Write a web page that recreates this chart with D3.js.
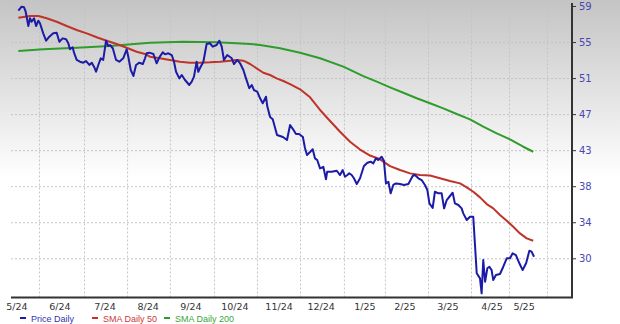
<!DOCTYPE html>
<html>
<head>
<meta charset="utf-8">
<script src="https://cdn.jsdelivr.net/npm/d3@7"></script>
<style>
  body { margin: 0; background: #fff; }
  svg { display: block; }
  .grid line { stroke: #c4c4c4; stroke-dasharray: 2 2; stroke-width: 1; }
  .ylabel { font: 10px "DejaVu Sans", sans-serif; fill: #4a46b4; }
  .xlabel { font: 9.5px "DejaVu Sans", sans-serif; fill: #333; }
  .legend text { font: 9px "Liberation Sans", Arial, sans-serif; }
</style>
</head>
<body>
<svg id="chart" width="620" height="324"></svg>
<script>
// x is a trading-session index
const priceSessions = [3.6, 5.2, 6.4, 7.2, 8.5, 9.3, 10.1, 11.3, 12.3, 13.4, 14.2, 15.8, 17.2, 18.8, 20.7, 22.4, 23.7, 25.3, 27.0, 28.1, 28.9, 30.2, 30.9, 32.2, 33.8, 35.4, 36.8, 38.4, 39.6, 40.7, 41.7, 42.8, 44.0, 45.2, 46.6, 47.7, 48.5, 49.9, 51.5, 53.1, 55.0, 56.7, 57.5, 58.7, 60.0, 61.3, 62.9, 64.6, 65.7, 66.5, 67.8, 69.8, 71.4, 72.7, 74.4, 75.5, 77.1, 78.8, 79.9, 80.9, 82.5, 83.7, 85.3, 87.4, 88.6, 89.7, 91.0, 91.8, 92.6, 94.3, 95.9, 97.5, 98.9, 100.8, 102.1, 103.3, 104.4, 106.0, 108.2, 109.3, 110.9, 112.3, 113.9, 115.2, 116.8, 118.0, 119.1, 120.7, 122.1, 123.4, 125.0, 125.6, 127.0, 128.3, 130.4, 133.3, 135.3, 136.8, 138.2, 139.7, 141.2, 143.1, 144.1, 145.1, 146.6, 147.9, 149.0, 150.1, 151.5, 153.1, 154.4, 155.0, 157.2, 159.7, 161.3, 162.6, 163.7, 164.9, 165.8, 167.0, 168.1, 169.5, 171.1, 173.0, 174.7, 176.3, 177.6, 178.9, 180.0, 181.7, 182.8, 183.8, 185.0, 186.1, 187.4, 188.7, 190.7, 192.6, 194.8, 196.9, 198.0, 199.7, 201.3, 202.9, 204.1, 205.1, 206.7, 207.8, 209.5, 211.1, 212.3, 213.6, 214.9, 216.5, 217.6, 219.3, 220.9, 221.7, 223.4, 225.0, 226.6, 227.5, 228.3, 229.9, 230.7, 231.5, 232.4, 233.5, 234.5, 235.6, 236.4, 237.7, 239.7, 241.3, 243.0, 244.6, 245.9, 247.5, 249.2, 250.8, 252.5, 254.1, 255.2, 256.4]
const priceValues = [58.37, 58.82, 58.75, 58.25, 56.62, 57.5, 57.11, 57.5, 56.62, 57.23, 56.93, 55.79, 54.95, 55.41, 55.79, 55.86, 54.84, 55.22, 55.11, 54.66, 53.97, 54.2, 53.59, 52.76, 52.56, 52.45, 52.64, 52.19, 52.45, 51.99, 51.42, 52.19, 52.95, 52.76, 54.95, 54.35, 54.46, 54.09, 52.76, 52.56, 52.95, 53.97, 53.13, 51.62, 50.94, 52.19, 52.45, 52.3, 52.95, 53.52, 53.59, 53.44, 52.38, 53.06, 53.63, 53.4, 53.52, 53.32, 52.56, 51.42, 50.67, 51.05, 50.48, 49.91, 50.29, 50.86, 52.56, 51.42, 51.81, 52.56, 54.58, 54.66, 54.27, 54.46, 54.95, 54.27, 52.76, 53.32, 52.95, 52.3, 52.76, 52.38, 51.62, 50.67, 49.54, 49.91, 49.34, 49.15, 48.4, 47.83, 48.58, 47.52, 46.27, 46.01, 44.22, 43.99, 43.65, 45.36, 44.9, 44.33, 44.33, 43.99, 42.74, 41.95, 42.29, 42.6, 41.57, 41.38, 40.43, 40.61, 39.18, 40.05, 40.05, 40.16, 39.67, 40.24, 39.48, 39.67, 39.87, 39.67, 39.3, 38.65, 39.3, 40.7, 41.07, 41.19, 41.0, 41.57, 41.38, 41.75, 41.3, 38.72, 38.91, 37.59, 38.54, 38.72, 38.65, 38.54, 38.65, 39.56, 39.67, 39.3, 39.1, 38.54, 37.97, 36.45, 35.92, 37.77, 37.59, 37.59, 35.88, 36.83, 37.2, 37.66, 36.45, 36.26, 35.88, 35.31, 34.55, 34.93, 34.93, 31.51, 28.49, 27.92, 26.21, 30.0, 27.53, 29.06, 29.24, 28.86, 27.72, 28.29, 28.41, 29.24, 30.2, 30.2, 30.77, 30.57, 29.63, 28.86, 29.63, 31.06, 30.95, 30.38]

const sma50Sessions = [3.6, 9.3, 13.4, 17.5, 22.4, 27.3, 32.2, 37.1, 42.0, 46.9, 51.8, 56.7, 61.6, 65.7, 68.1, 73.0, 77.9, 82.8, 87.7, 92.6, 97.5, 102.5, 107.4, 110.6, 113.9, 117.2, 120.4, 123.7, 127.0, 130.2, 133.5, 136.8, 141.7, 146.6, 151.5, 156.4, 161.3, 166.2, 171.1, 176.0, 180.9, 185.8, 190.7, 195.6, 200.5, 205.4, 210.3, 215.2, 220.1, 223.4, 226.6, 229.9, 233.2, 236.4, 239.7, 243.0, 246.2, 249.5, 252.8, 256.0]
const sma50Values = [57.57, 57.76, 57.76, 57.5, 57.11, 56.62, 56.17, 55.79, 55.34, 54.95, 54.58, 54.15, 53.7, 53.44, 53.13, 52.95, 52.76, 52.56, 52.45, 52.45, 52.49, 52.56, 52.68, 52.76, 52.68, 52.3, 51.81, 51.31, 51.05, 50.67, 50.37, 50.02, 49.42, 48.51, 47.07, 45.82, 44.6, 43.46, 42.57, 41.89, 41.46, 40.69, 40.24, 39.86, 39.67, 39.61, 39.3, 38.99, 38.72, 38.27, 37.77, 37.13, 36.37, 35.88, 35.12, 34.47, 33.78, 33.03, 32.46, 32.19]

const sma200Sessions = [3.6, 15.8, 32.2, 48.5, 68.1, 84.5, 100.8, 110.6, 117.2, 122.1, 131.9, 141.7, 151.5, 162.9, 172.7, 179.3, 185.8, 192.3, 198.9, 205.4, 211.9, 218.5, 225.0, 231.5, 238.1, 244.6, 251.1, 256.0]
const sma200Values = [53.78, 53.97, 54.15, 54.35, 54.72, 54.84, 54.77, 54.67, 54.58, 54.46, 54.09, 53.59, 52.95, 52.0, 50.93, 50.29, 49.65, 49.03, 48.4, 47.83, 47.26, 46.61, 46.01, 45.17, 44.41, 43.73, 42.89, 42.32]

const gridSessions = [13.7, 35.8, 56.9, 77.9, 99.5, 120.6, 141.7, 163.2, 183.3, 204.4, 225.5, 244.1, 262.7]
const labelSessions = [2.9, 24.0, 46.1, 67.2, 88.2, 109.8, 131.4, 152.0, 173.5, 193.1, 214.2, 235.8, 251.5]
const monthLabels = ['5/24', '6/24', '7/24', '8/24', '9/24', '10/24', '11/24', '12/24', '1/25', '2/25', '3/25', '4/25', '5/25']
const yTicks = [30.2, 34.3, 38.4, 42.5, 46.6, 50.7, 54.8, 58.9]
const yTickLabels = ['30', '34', '38', '43', '47', '51', '55', '59']

const series = [
  { name: 'Price Daily', xs: priceSessions, ys: priceValues, color: '#1b1ba8', text: '#3434b0' },
  { name: 'SMA Daily 50', xs: sma50Sessions, ys: sma50Values, color: '#bf3329', text: '#cc3a3a' },
  { name: 'SMA Daily 200', xs: sma200Sessions, ys: sma200Values, color: '#2f9c2c', text: '#3aa63a' },
]

const svg = d3.select('#chart')
const plot = { left: 11, right: 572, top: 3, bottom: 297.5 }

const x = d3.scaleLinear().domain([0, 275]).range([plot.left, plot.right])
const y = d3.scaleLinear().domain([25.74, 59.24]).range([plot.bottom, plot.top])

const grad = svg.append('defs').append('linearGradient')
  .attr('id', 'bg').attr('x1', 0).attr('y1', 0).attr('x2', 0).attr('y2', 1)
grad.append('stop').attr('offset', '0%').attr('stop-color', '#c4c4c4')
grad.append('stop').attr('offset', '55%').attr('stop-color', '#ffffff')
svg.append('rect').attr('width', 620).attr('height', 324).attr('fill', 'url(#bg)')

// gridlines
svg.append('g').attr('class', 'grid')
  .call(d3.axisBottom(x).tickValues(gridSessions).tickSize(-(plot.bottom - plot.top)).tickFormat(''))
  .attr('transform', `translate(0,${plot.bottom})`)
  .call(g => g.select('.domain').remove())
svg.append('g').attr('class', 'grid')
  .call(d3.axisLeft(y).tickValues(yTicks).tickSize(-(plot.right - plot.left)).tickFormat(''))
  .attr('transform', `translate(${plot.left},0)`)
  .call(g => g.select('.domain').remove())

// series
const line = d3.line().x(d => x(d[0])).y(d => y(d[1]))
series.slice().reverse().forEach(s => {
  svg.append('path')
    .datum(d3.zip(s.xs, s.ys))
    .attr('d', line)
    .attr('fill', 'none')
    .attr('stroke', s.color)
    .attr('stroke-width', 2)
    .attr('stroke-linejoin', 'round')
})

// right axis
const yAxis = svg.append('g')
  .attr('transform', `translate(${plot.right},0)`)
  .call(d3.axisRight(y).tickValues(yTicks).tickSize(4).tickPadding(3).tickFormat((d, i) => yTickLabels[i]))
yAxis.select('.domain').remove()
yAxis.selectAll('.tick line').attr('stroke', '#333')
yAxis.selectAll('.tick text').attr('class', 'ylabel').attr('fill', null)
svg.append('line')
  .attr('x1', plot.right).attr('x2', plot.right)
  .attr('y1', plot.top).attr('y2', plot.bottom)
  .attr('stroke', '#333').attr('stroke-width', 2)

// bottom axis
svg.append('line')
  .attr('x1', plot.left).attr('x2', plot.right + 1)
  .attr('y1', plot.bottom).attr('y2', plot.bottom)
  .attr('stroke', '#333').attr('stroke-width', 2)
svg.append('g').selectAll('text')
  .data(labelSessions)
  .join('text')
  .attr('class', 'xlabel')
  .attr('x', d => x(d))
  .attr('y', 310)
  .attr('text-anchor', 'middle')
  .text((d, i) => monthLabels[i])

// legend
const legendX = [20, 92, 164]
const legend = svg.append('g').attr('class', 'legend')
  .selectAll('g').data(series).join('g')
  .attr('transform', (d, i) => `translate(${legendX[i]},318)`)
legend.append('line')
  .attr('x1', 0).attr('x2', 6).attr('y1', 0).attr('y2', 0)
  .attr('stroke', d => d.color).attr('stroke-width', 2)
legend.append('text')
  .attr('x', 11).attr('y', 3.5)
  .attr('fill', d => d.text)
  .text(d => d.name)
</script>
</body>
</html>
